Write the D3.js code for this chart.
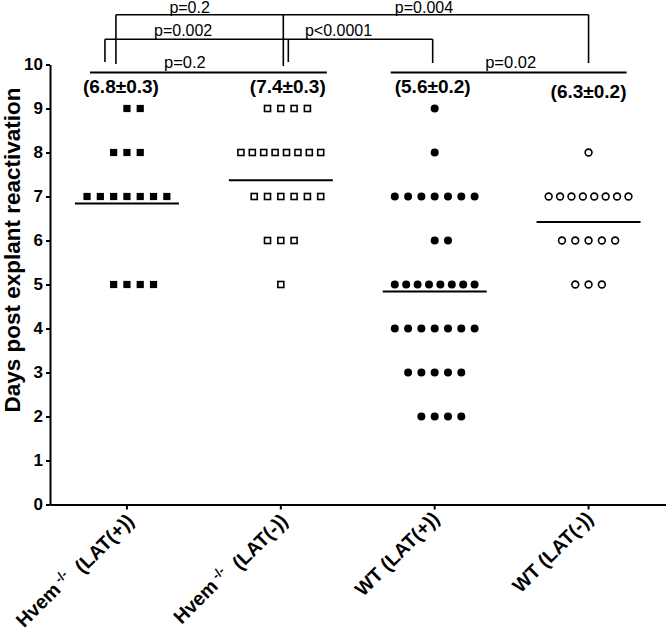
<!DOCTYPE html>
<html><head>
<meta charset="utf-8">
<title>Days post explant reactivation</title>
<script src="https://cdnjs.cloudflare.com/ajax/libs/d3/7.8.5/d3.min.js"></script>
<style>
  body { margin: 0; background: #fff; }
  svg { display: block; font-family: "Liberation Sans", Arial, sans-serif; }
  .axis path, .axis line { stroke: #000; stroke-width: 2; }
  .axis text { font-size: 17px; font-weight: bold; fill: #000; }
</style>
</head>
<body>
<svg id="chart" width="666" height="631"></svg>

<script>
// groups on the x axis
const groupNames = ["Hvem", "Hvem", "WT", "WT"];
const groupSup = ["-/-", "-/-", "", ""];
const groupLat = ["(LAT(+))", "(LAT(-))", "(LAT(+))", "(LAT(-))"];

// days until reactivation, one value per explant
const hvemPos = [9, 9, 8, 8, 8, 7, 7, 7, 7, 7, 7, 7, 5, 5, 5, 5];
const hvemNeg = [9, 9, 9, 9, 8, 8, 8, 8, 8, 8, 8, 8, 7, 7, 7, 7, 7, 7, 6, 6, 6, 5];
const wtPos = [9, 8, 7, 7, 7, 7, 7, 7, 7, 6, 6, 5, 5, 5, 5, 5, 5, 5, 5,
               4, 4, 4, 4, 4, 4, 4, 3, 3, 3, 3, 3, 2, 2, 2, 2];
const wtNeg = [8, 7, 7, 7, 7, 7, 7, 7, 7, 6, 6, 6, 6, 6, 5, 5, 5];

// horizontal line drawn for each group, and the printed mean +- SEM
const lineValues = [6.84, 7.37, 4.84, 6.42];
const meanLabels = ["(6.8\u00b10.3)", "(7.4\u00b10.3)", "(5.6\u00b10.2)", "(6.3\u00b10.2)"];

// p values for the comparison brackets
const pLabels = ["p=0.2", "p=0.004", "p=0.002", "p<0.0001", "p=0.2", "p=0.02"];

const yTicks = [0, 1, 2, 3, 4, 5, 6, 7, 8, 9, 10];

const seriesList = [hvemPos, hvemNeg, wtPos, wtNeg];
const shapes = ["square", "square", "circle", "circle"];
const filled = [true, false, true, false];

const svg = d3.select("#chart");

const x = d3.scaleBand().domain(d3.range(4)).range([50, 665.5]).paddingInner(0).paddingOuter(0);
const cx = i => x(i) + x.bandwidth() / 2;
const y = d3.scaleLinear().domain([0, 10]).range([504.5, 64.5]);

// axes
svg.append("g").attr("class", "axis")
  .attr("transform", "translate(50,0)")
  .call(d3.axisLeft(y).tickValues(yTicks).tickSize(4).tickSizeOuter(0).tickPadding(3));

svg.append("g").attr("class", "axis")
  .attr("transform", "translate(0," + y(0) + ")")
  .call(d3.axisBottom(x).tickSize(5).tickSizeOuter(0).tickFormat(""));

// category labels, rotated 45 degrees
d3.range(4).forEach(i => {
  const t = svg.append("text")
    .attr("transform", "translate(" + (cx(i) + 1) + ",515) rotate(-45)")
    .attr("text-anchor", "end")
    .attr("dy", "0.35em")
    .style("font-size", "19.5px")
    .style("font-weight", "bold");
  t.append("tspan").text(groupNames[i]);
  if (groupSup[i]) {
    t.append("tspan").attr("dy", "-0.5em").style("font-size", "13px").text("\u00a0" + groupSup[i]);
    t.append("tspan").attr("dy", "0.5em").text("\u00a0 " + groupLat[i]);
  } else {
    t.append("tspan").text(" " + groupLat[i]);
  }
});

// y axis title
svg.append("text")
  .attr("transform", "translate(19.5,250) rotate(-90)")
  .attr("text-anchor", "middle")
  .style("font-size", "22.5px")
  .style("font-weight", "bold")
  .text("Days post explant reactivation");

// scatter points: GraphPad-like column layout
const step = 13.3;
const slotOrder = n => d3.range(n).map(k => k === 0 ? 0 : (k % 2 ? (k + 1) / 2 : -k / 2));
seriesList.forEach((vals, i) => {
  const pts = [];
  d3.groups(vals, v => v).forEach(([v, arr]) => {
    const n = arr.length;
    let offs;
    if (n > 7) offs = d3.range(n).map(k => -3 + 6 * k / (n - 1));
    else offs = slotOrder(n);
    offs.forEach(o => pts.push({ v: v, o: o }));
  });
  const g = svg.append("g");
  if (shapes[i] === "square") {
    const s = filled[i] ? 7.2 : 6;
    g.selectAll("rect").data(pts).join("rect")
      .attr("x", d => cx(i) + d.o * step - s / 2)
      .attr("y", d => y(d.v) - s / 2)
      .attr("width", s).attr("height", s)
      .attr("fill", filled[i] ? "#000" : "#fff")
      .attr("stroke", filled[i] ? "none" : "#000")
      .attr("stroke-width", 1.6);
  } else {
    g.selectAll("circle").data(pts).join("circle")
      .attr("cx", d => cx(i) + d.o * step)
      .attr("cy", d => y(d.v))
      .attr("r", filled[i] ? 4 : 3.4)
      .attr("fill", filled[i] ? "#000" : "#fff")
      .attr("stroke", filled[i] ? "none" : "#000")
      .attr("stroke-width", 1.6);
  }
  // group line
  svg.append("line")
    .attr("x1", cx(i) - 52).attr("x2", cx(i) + 52)
    .attr("y1", y(lineValues[i])).attr("y2", y(lineValues[i]))
    .attr("stroke", "#000").attr("stroke-width", 2);
});

// mean +- SEM labels
const meanDx = [-6, 7, -2, 0];
const meanY = [93.3, 93.3, 93.3, 97.7];
meanLabels.forEach((m, i) => {
  svg.append("text")
    .attr("x", cx(i) + meanDx[i]).attr("y", meanY[i])
    .attr("text-anchor", "middle")
    .style("font-size", "19px").style("font-weight", "bold")
    .text(m);
});

// comparison brackets
const tiers = [
  { y: 14.7, stops: [[0, -11, 64], [1, 2.5, 66], [3, 0, 63]], labels: [[0, -10], [1, -12]], baseGap: 1.6 },
  { y: 39.3, stops: [[0, -22, 62], [1, 7.5, 62], [2, -2, 63]], labels: [[2, -13.5], [3, -22]], baseGap: 3.3 }
];
tiers.forEach(t => {
  const xs = t.stops.map(s => cx(s[0]) + s[1]);
  svg.append("line").attr("x1", xs[0]).attr("x2", xs[xs.length - 1])
    .attr("y1", t.y).attr("y2", t.y).attr("stroke", "#000").attr("stroke-width", 1.6);
  t.stops.forEach((s, k) => {
    svg.append("line").attr("x1", xs[k]).attr("x2", xs[k])
      .attr("y1", t.y).attr("y2", s[2]).attr("stroke", "#000").attr("stroke-width", 1.6);
  });
  t.labels.forEach((l, k) => {
    svg.append("text")
      .attr("x", (xs[k] + xs[k + 1]) / 2 + l[1]).attr("y", t.y - t.baseGap)
      .attr("text-anchor", "middle").style("font-size", "16px")
      .text(pLabels[l[0]]);
  });
});

// flat lines with p values (pairs 1-2 and 3-4)
const flats = [[0, -37, 1, 46, 4, -23.5], [2, -44, 3, 38, 5, 2]];
flats.forEach(f => {
  const x1 = cx(f[0]) + f[1], x2 = cx(f[2]) + f[3];
  svg.append("line").attr("x1", x1).attr("x2", x2)
    .attr("y1", 72.5).attr("y2", 72.5).attr("stroke", "#000").attr("stroke-width", 1.8);
  svg.append("text")
    .attr("x", (x1 + x2) / 2 + f[5]).attr("y", 67.5)
    .attr("text-anchor", "middle").style("font-size", "16.5px")
    .text(pLabels[f[4]]);
});
</script>
</body>
</html>
